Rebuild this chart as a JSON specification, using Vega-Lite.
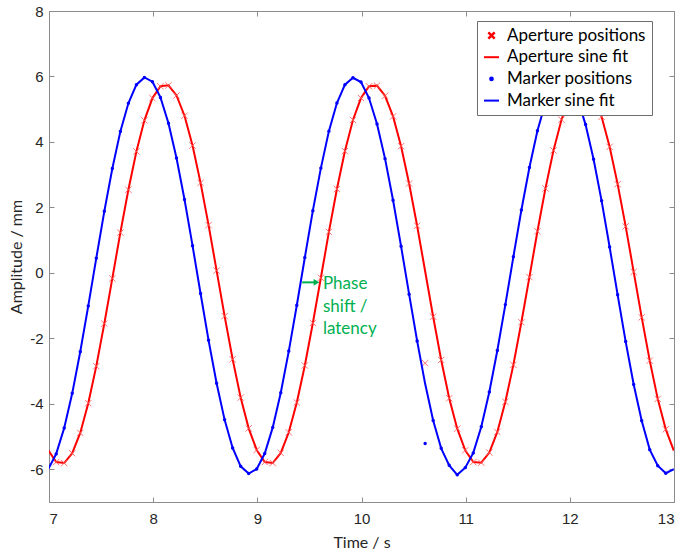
{
  "$schema": "https://vega.github.io/schema/vega-lite/v6.json",
  "width": 625,
  "height": 491,
  "autosize": "none",
  "padding": {"left": 49, "top": 11, "right": 11, "bottom": 52},
  "background": "white",
  "resolve": {"axis": {"x": "independent", "y": "independent"}},
  "config": {
    "view": {"stroke": "#8c8c8c", "strokeWidth": 1},
    "axis": {
      "grid": false,
      "domainColor": "#8c8c8c",
      "tickColor": "#8c8c8c",
      "tickSize": -5,
      "labelFont": "Liberation Sans",
      "labelFontSize": 15,
      "labelColor": "#262626",
      "titleFont": "Lato",
      "titleFontSize": 16,
      "titleFontWeight": "normal",
      "titleColor": "#262626"
    }
  },
  "data": {
    "values": [
      {"t": 6.992, "Aperture sine fit": -5.41, "Marker sine fit": -6.00},
      {"t": 7.069, "Aperture positions": -5.78, "Aperture sine fit": -5.78, "Marker positions": -5.53, "Marker sine fit": -5.53},
      {"t": 7.146, "Aperture positions": -5.81, "Aperture sine fit": -5.81, "Marker positions": -4.74, "Marker sine fit": -4.74},
      {"t": 7.223, "Aperture positions": -5.51, "Aperture sine fit": -5.51, "Marker positions": -3.68, "Marker sine fit": -3.68},
      {"t": 7.300, "Aperture positions": -4.89, "Aperture sine fit": -4.89, "Marker positions": -2.41, "Marker sine fit": -2.41},
      {"t": 7.377, "Aperture positions": -3.98, "Aperture sine fit": -3.98, "Marker positions": -1.01, "Marker sine fit": -1.01},
      {"t": 7.454, "Aperture positions": -2.85, "Aperture sine fit": -2.85, "Marker positions": 0.45, "Marker sine fit": 0.45},
      {"t": 7.531, "Aperture positions": -1.55, "Aperture sine fit": -1.55, "Marker positions": 1.88, "Marker sine fit": 1.88},
      {"t": 7.608, "Aperture positions": -0.17, "Aperture sine fit": -0.17, "Marker positions": 3.19, "Marker sine fit": 3.19},
      {"t": 7.685, "Aperture positions": 1.23, "Aperture sine fit": 1.23, "Marker positions": 4.32, "Marker sine fit": 4.32},
      {"t": 7.762, "Aperture positions": 2.54, "Aperture sine fit": 2.54, "Marker positions": 5.18, "Marker sine fit": 5.18},
      {"t": 7.839, "Aperture positions": 3.71, "Aperture sine fit": 3.71, "Marker positions": 5.75, "Marker sine fit": 5.75},
      {"t": 7.916, "Aperture positions": 4.66, "Aperture sine fit": 4.66, "Marker positions": 5.97, "Marker sine fit": 5.97},
      {"t": 7.993, "Aperture positions": 5.34, "Aperture sine fit": 5.34, "Marker positions": 5.84, "Marker sine fit": 5.84},
      {"t": 8.070, "Aperture positions": 5.70, "Aperture sine fit": 5.70, "Marker positions": 5.36, "Marker sine fit": 5.36},
      {"t": 8.147, "Aperture positions": 5.73, "Aperture sine fit": 5.73, "Marker positions": 4.57, "Marker sine fit": 4.57},
      {"t": 8.224, "Aperture positions": 5.42, "Aperture sine fit": 5.42, "Marker positions": 3.51, "Marker sine fit": 3.51},
      {"t": 8.301, "Aperture positions": 4.80, "Aperture sine fit": 4.80, "Marker positions": 2.24, "Marker sine fit": 2.24},
      {"t": 8.378, "Aperture positions": 3.89, "Aperture sine fit": 3.89, "Marker positions": 0.83, "Marker sine fit": 0.83},
      {"t": 8.455, "Aperture positions": 2.75, "Aperture sine fit": 2.75, "Marker positions": -0.63, "Marker sine fit": -0.63},
      {"t": 8.532, "Aperture positions": 1.46, "Aperture sine fit": 1.46, "Marker positions": -2.06, "Marker sine fit": -2.06},
      {"t": 8.609, "Aperture positions": 0.07, "Aperture sine fit": 0.07, "Marker positions": -3.37, "Marker sine fit": -3.37},
      {"t": 8.686, "Aperture positions": -1.32, "Aperture sine fit": -1.32, "Marker positions": -4.49, "Marker sine fit": -4.49},
      {"t": 8.763, "Aperture positions": -2.64, "Aperture sine fit": -2.64, "Marker positions": -5.35, "Marker sine fit": -5.35},
      {"t": 8.840, "Aperture positions": -3.81, "Aperture sine fit": -3.81, "Marker positions": -5.91, "Marker sine fit": -5.91},
      {"t": 8.917, "Aperture positions": -4.75, "Aperture sine fit": -4.75, "Marker positions": -6.13, "Marker sine fit": -6.13},
      {"t": 8.994, "Aperture positions": -5.41, "Aperture sine fit": -5.41, "Marker positions": -5.99, "Marker sine fit": -5.99},
      {"t": 9.071, "Aperture positions": -5.78, "Aperture sine fit": -5.78, "Marker positions": -5.52, "Marker sine fit": -5.52},
      {"t": 9.148, "Aperture positions": -5.81, "Aperture sine fit": -5.81, "Marker positions": -4.72, "Marker sine fit": -4.72},
      {"t": 9.225, "Aperture positions": -5.50, "Aperture sine fit": -5.50, "Marker positions": -3.66, "Marker sine fit": -3.66},
      {"t": 9.302, "Aperture positions": -4.87, "Aperture sine fit": -4.87, "Marker positions": -2.39, "Marker sine fit": -2.39},
      {"t": 9.379, "Aperture positions": -3.96, "Aperture sine fit": -3.96, "Marker positions": -0.99, "Marker sine fit": -0.99},
      {"t": 9.456, "Aperture positions": -2.83, "Aperture sine fit": -2.83, "Marker positions": 0.47, "Marker sine fit": 0.47},
      {"t": 9.533, "Aperture positions": -1.53, "Aperture sine fit": -1.53, "Marker positions": 1.90, "Marker sine fit": 1.90},
      {"t": 9.610, "Aperture positions": -0.15, "Aperture sine fit": -0.15, "Marker positions": 3.20, "Marker sine fit": 3.20},
      {"t": 9.687, "Aperture positions": 1.25, "Aperture sine fit": 1.25, "Marker positions": 4.33, "Marker sine fit": 4.33},
      {"t": 9.764, "Aperture positions": 2.56, "Aperture sine fit": 2.56, "Marker positions": 5.19, "Marker sine fit": 5.19},
      {"t": 9.841, "Aperture positions": 3.72, "Aperture sine fit": 3.72, "Marker positions": 5.75, "Marker sine fit": 5.75},
      {"t": 9.918, "Aperture positions": 4.67, "Aperture sine fit": 4.67, "Marker positions": 5.96, "Marker sine fit": 5.96},
      {"t": 9.995, "Aperture positions": 5.34, "Aperture sine fit": 5.34, "Marker positions": 5.83, "Marker sine fit": 5.83},
      {"t": 10.072, "Aperture positions": 5.70, "Aperture sine fit": 5.70, "Marker positions": 5.34, "Marker sine fit": 5.34},
      {"t": 10.149, "Aperture positions": 5.72, "Aperture sine fit": 5.72, "Marker positions": 4.55, "Marker sine fit": 4.55},
      {"t": 10.226, "Aperture positions": 5.41, "Aperture sine fit": 5.41, "Marker positions": 3.49, "Marker sine fit": 3.49},
      {"t": 10.303, "Aperture positions": 4.78, "Aperture sine fit": 4.78, "Marker positions": 2.22, "Marker sine fit": 2.22},
      {"t": 10.380, "Aperture positions": 3.87, "Aperture sine fit": 3.87, "Marker positions": 0.81, "Marker sine fit": 0.81},
      {"t": 10.457, "Aperture positions": 2.73, "Aperture sine fit": 2.73, "Marker positions": -0.65, "Marker sine fit": -0.65},
      {"t": 10.534, "Aperture positions": 1.44, "Aperture sine fit": 1.44, "Marker positions": -2.08, "Marker sine fit": -2.08},
      {"t": 10.611, "Aperture positions": -2.76, "Aperture sine fit": 0.05, "Marker positions": -5.21, "Marker sine fit": -3.39},
      {"t": 10.688, "Aperture positions": -1.34, "Aperture sine fit": -1.34, "Marker positions": -4.51, "Marker sine fit": -4.51},
      {"t": 10.765, "Aperture positions": -2.66, "Aperture sine fit": -2.66, "Marker positions": -5.36, "Marker sine fit": -5.36},
      {"t": 10.842, "Aperture positions": -3.83, "Aperture sine fit": -3.83, "Marker positions": -5.88, "Marker sine fit": -5.88},
      {"t": 10.919, "Aperture positions": -4.76, "Aperture sine fit": -4.76, "Marker positions": -6.17, "Marker sine fit": -6.17},
      {"t": 10.996, "Aperture positions": -5.42, "Aperture sine fit": -5.42, "Marker positions": -5.95, "Marker sine fit": -5.95},
      {"t": 11.073, "Aperture positions": -5.78, "Aperture sine fit": -5.78, "Marker positions": -5.50, "Marker sine fit": -5.50},
      {"t": 11.150, "Aperture positions": -5.80, "Aperture sine fit": -5.80, "Marker positions": -4.70, "Marker sine fit": -4.70},
      {"t": 11.227, "Aperture positions": -5.49, "Aperture sine fit": -5.49, "Marker positions": -3.64, "Marker sine fit": -3.64},
      {"t": 11.304, "Aperture positions": -4.86, "Aperture sine fit": -4.86, "Marker positions": -2.37, "Marker sine fit": -2.37},
      {"t": 11.381, "Aperture positions": -3.94, "Aperture sine fit": -3.94, "Marker positions": -0.97, "Marker sine fit": -0.97},
      {"t": 11.458, "Aperture positions": -2.81, "Aperture sine fit": -2.81, "Marker positions": 0.49, "Marker sine fit": 0.49},
      {"t": 11.535, "Aperture positions": -1.51, "Aperture sine fit": -1.51, "Marker positions": 1.92, "Marker sine fit": 1.92},
      {"t": 11.612, "Aperture positions": -0.13, "Aperture sine fit": -0.13, "Marker positions": 3.22, "Marker sine fit": 3.22},
      {"t": 11.689, "Aperture positions": 1.27, "Aperture sine fit": 1.27, "Marker positions": 4.34, "Marker sine fit": 4.34},
      {"t": 11.766, "Aperture positions": 2.58, "Aperture sine fit": 2.58, "Marker positions": 5.20, "Marker sine fit": 5.20},
      {"t": 11.843, "Aperture positions": 3.74, "Aperture sine fit": 3.74, "Marker positions": 5.76, "Marker sine fit": 5.76},
      {"t": 11.920, "Aperture positions": 4.68, "Aperture sine fit": 4.68, "Marker positions": 5.96, "Marker sine fit": 5.96},
      {"t": 11.997, "Aperture positions": 5.35, "Aperture sine fit": 5.35, "Marker positions": 5.82, "Marker sine fit": 5.82},
      {"t": 12.074, "Aperture positions": 5.71, "Aperture sine fit": 5.71, "Marker positions": 5.33, "Marker sine fit": 5.33},
      {"t": 12.151, "Aperture positions": 5.72, "Aperture sine fit": 5.72, "Marker positions": 4.53, "Marker sine fit": 4.53},
      {"t": 12.228, "Aperture positions": 5.40, "Aperture sine fit": 5.40, "Marker positions": 3.47, "Marker sine fit": 3.47},
      {"t": 12.305, "Aperture positions": 4.77, "Aperture sine fit": 4.77, "Marker positions": 2.20, "Marker sine fit": 2.20},
      {"t": 12.382, "Aperture positions": 3.85, "Aperture sine fit": 3.85, "Marker positions": 0.79, "Marker sine fit": 0.79},
      {"t": 12.459, "Aperture positions": 2.71, "Aperture sine fit": 2.71, "Marker positions": -0.67, "Marker sine fit": -0.67},
      {"t": 12.536, "Aperture positions": 1.42, "Aperture sine fit": 1.42, "Marker positions": -2.10, "Marker sine fit": -2.10},
      {"t": 12.613, "Aperture positions": 0.03, "Aperture sine fit": 0.03, "Marker positions": -3.41, "Marker sine fit": -3.41},
      {"t": 12.690, "Aperture positions": -1.36, "Aperture sine fit": -1.36, "Marker positions": -4.52, "Marker sine fit": -4.52},
      {"t": 12.767, "Aperture positions": -2.68, "Aperture sine fit": -2.68, "Marker positions": -5.40, "Marker sine fit": -5.40},
      {"t": 12.844, "Aperture positions": -3.85, "Aperture sine fit": -3.85, "Marker positions": -5.89, "Marker sine fit": -5.89},
      {"t": 12.921, "Aperture positions": -4.78, "Aperture sine fit": -4.78, "Marker positions": -6.12, "Marker sine fit": -6.12},
      {"t": 12.998, "Aperture sine fit": -5.43, "Marker sine fit": -6.00}
    ]
  },
  "transform": [
    {"fold": ["Aperture positions", "Aperture sine fit", "Marker positions", "Marker sine fit"], "as": ["series", "amp"]}
  ],
  "encoding": {
    "x": {
      "field": "t", "type": "quantitative",
      "scale": {"domain": [7, 13], "nice": false, "zero": false},
      "axis": null
    },
    "y": {
      "field": "amp", "type": "quantitative",
      "scale": {"domain": [-7, 8], "nice": false, "zero": false},
      "axis": null
    }
  },
  "layer": [
    {
      "transform": [{"filter": "datum.series === 'Aperture sine fit'"}],
      "mark": {"type": "line", "strokeWidth": 2, "clip": true},
      "encoding": {
        "x": {
          "field": "t", "type": "quantitative", "title": "Time / s",
          "scale": {"domain": [7, 13], "nice": false, "zero": false},
          "axis": {"orient": "bottom", "values": [7, 8, 9, 10, 11, 12, 13], "labelPadding": 14, "titlePadding": 8}
        },
        "y": {
          "field": "amp", "type": "quantitative", "title": "Amplitude / mm",
          "scale": {"domain": [-7, 8], "nice": false, "zero": false},
          "axis": {
            "orient": "left", "values": [-6, -4, -2, 0, 2, 4, 6, 8], "labelPadding": 11, "titlePadding": 5,
            "labelExpr": "datum.value < 0 ? '-' + abs(datum.value) : '' + datum.value"
          }
        },
        "color": {
          "field": "series", "type": "nominal",
          "scale": {
            "domain": ["Aperture positions", "Aperture sine fit", "Marker positions", "Marker sine fit"],
            "range": ["#ff0000", "#ff0000", "#0000ff", "#0000ff"]
          },
          "legend": {
            "orient": "none", "legendX": 428, "legendY": 10, "title": null,
            "fillColor": "white", "strokeColor": "#6e6e6e", "padding": 6,
            "labelFont": "Lato", "labelFontSize": 17, "labelColor": "#000000",
            "labelExpr": "datum.label + '\u00a0\u00a0\u00a0'",
            "rowPadding": 3.7, "labelOffset": 7, "symbolSize": 200,
            "encode": {
              "symbols": {
                "update": {
                  "shape": {"signal": "datum.value === 'Aperture positions' ? 'M-1,-1L1,1M-1,1L1,-1' : (datum.value === 'Marker positions' ? 'circle' : 'stroke')"},
                  "size": {"signal": "datum.value === 'Aperture positions' ? 40 : (datum.value === 'Marker positions' ? 22 : 225)"},
                  "fill": {"signal": "datum.value === 'Marker positions' ? '#0000ff' : 'transparent'"},
                  "stroke": {"signal": "(datum.value === 'Aperture positions' || datum.value === 'Aperture sine fit') ? '#ff0000' : '#0000ff'"},
                  "strokeWidth": {"signal": "datum.value === 'Aperture positions' ? 2.5 : (datum.value === 'Marker positions' ? 0 : 2)"},
                  "opacity": {"value": 1}
                }
              }
            }
          }
        }
      }
    },
    {
      "mark": {"type": "point", "opacity": 0, "clip": true},
      "encoding": {
        "x": {
          "field": "t", "type": "quantitative", "title": null,
          "scale": {"domain": [7, 13], "nice": false, "zero": false},
          "axis": {"orient": "top", "values": [7, 8, 9, 10, 11, 12, 13], "labels": false, "domain": false}
        },
        "y": {
          "field": "amp", "type": "quantitative", "title": null,
          "scale": {"domain": [-7, 8], "nice": false, "zero": false},
          "axis": {"orient": "right", "values": [-6, -4, -2, 0, 2, 4, 6, 8], "labels": false, "domain": false}
        }
      }
    },
    {
      "transform": [{"filter": "datum.series === 'Aperture positions'"}],
      "mark": {"type": "point", "shape": "M-1,-1L1,1M-1,1L1,-1", "filled": false, "size": 40, "stroke": "#ff5a5a", "strokeWidth": 1, "opacity": 0.85, "clip": true}
    },
    {
      "transform": [{"filter": "datum.series === 'Marker sine fit'"}],
      "mark": {"type": "line", "strokeWidth": 2, "clip": true},
      "encoding": {"color": {"field": "series", "type": "nominal"}}
    },
    {
      "transform": [{"filter": "datum.series === 'Marker positions'"}],
      "mark": {"type": "point", "shape": "circle", "filled": true, "size": 12, "color": "#0000ff", "opacity": 1, "clip": true}
    },
    {
      "data": {"values": [{"t": 9.43, "t2": 9.56, "amp": -0.29}]},
      "transform": [],
      "mark": {"type": "rule", "color": "#00b050", "strokeWidth": 2},
      "encoding": {"x2": {"field": "t2"}}
    },
    {
      "data": {"values": [{"t": 9.568, "amp": -0.29}]},
      "transform": [],
      "mark": {"type": "point", "shape": "triangle-right", "filled": true, "size": 45, "color": "#00b050", "opacity": 1}
    },
    {
      "data": {"values": [{"t": 9.63, "amp": -0.5, "label": "Phase\nshift /\nlatency"}]},
      "transform": [],
      "mark": {"type": "text", "align": "left", "baseline": "alphabetic", "lineBreak": "\n", "lineHeight": 22.5, "font": "Lato", "fontSize": 17, "color": "#00b050"},
      "encoding": {"text": {"field": "label"}}
    }
  ]
}
